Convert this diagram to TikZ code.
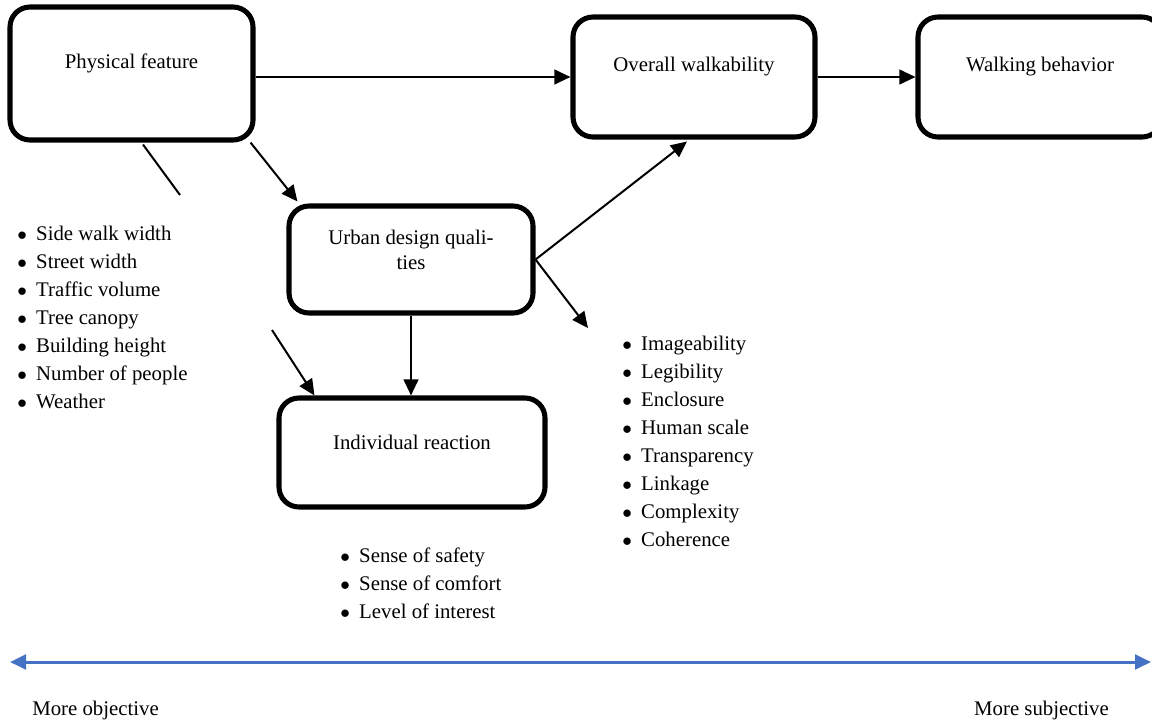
\documentclass[tikz,border=0pt]{standalone}
\usepackage{fontspec}
\setmainfont{Liberation Serif}
\usetikzlibrary{arrows.meta}
\usetikzlibrary{calc}
\definecolor{axisblue}{RGB}{68,114,196}

\begin{document}
\begin{tikzpicture}[x=0.75pt,y=0.75pt,yscale=-1,
    box/.style={draw, line width=3.8pt, rounded corners=15pt, inner sep=0pt},
    boxtext/.style={inner sep=0pt, align=center, font=\fontsize{15.6}{18.75}\selectfont},
    bullets/.style={inner sep=0pt, anchor=north west, align=left, font=\fontsize{15.6}{21}\selectfont},
    link/.style={line width=1.5pt, -{Triangle[length=12pt,width=11pt]}},
    axis/.style={line width=2.25pt, color=axisblue, {Triangle[length=12pt,width=11pt]}-{Triangle[length=12pt,width=11pt]}}]
    \useasboundingbox (0,0) rectangle (1152,722);

    % Boxes
    \node[box, minimum width=182.25pt, minimum height=99.75pt] (phys) at (131.5,73.5) {};
    \node[box, minimum width=181.5pt, minimum height=90pt] (overall) at (694,77) {};
    \node[box, minimum width=183pt, minimum height=90pt] (walking) at (1040,77) {};
    \node[box, minimum width=183pt, minimum height=80.25pt] (urban) at (411,259.5) {};
    \node[box, minimum width=199.5pt, minimum height=81.75pt] (indiv) at (412,452.5) {};

    % Box texts
    \node[boxtext] (physT) at ($(phys.center)+(0,-10)$) {Physical feature};
    \node[boxtext] (overallT) at ($(overall.center)+(0,-10)$) {Overall walkability};
    \node[boxtext] (walkingT) at ($(walking.center)+(0,-10)$) {Walking behavior};
    \node[boxtext] (urbanT) at ($(urban.center)+(0,-10)$) {Urban design quali-\\ties};
    \node[boxtext] (indivT) at ($(indiv.center)+(0,-10)$) {Individual reaction};

    % Bullet lists
    \node[bullets] (physlist) at (17,225.5) {$\bullet$\hspace{7pt}Side walk width\\
        $\bullet$\hspace{7pt}Street width\\
        $\bullet$\hspace{7pt}Traffic volume\\
        $\bullet$\hspace{7pt}Tree canopy\\
        $\bullet$\hspace{7pt}Building height\\
        $\bullet$\hspace{7pt}Number of people\\
        $\bullet$\hspace{7pt}Weather};
    \node[bullets] (qualist) at (622,335.5) {$\bullet$\hspace{7pt}Imageability\\
        $\bullet$\hspace{7pt}Legibility\\
        $\bullet$\hspace{7pt}Enclosure\\
        $\bullet$\hspace{7pt}Human scale\\
        $\bullet$\hspace{7pt}Transparency\\
        $\bullet$\hspace{7pt}Linkage\\
        $\bullet$\hspace{7pt}Complexity\\
        $\bullet$\hspace{7pt}Coherence};
    \node[bullets] (reactlist) at (340,547.5) {$\bullet$\hspace{7pt}Sense of safety\\
        $\bullet$\hspace{7pt}Sense of comfort\\
        $\bullet$\hspace{7pt}Level of interest};

    % Connectors
    \coordinate (qualtip) at (588,328);
    \coordinate (gapA) at (180,195);
    \coordinate (gapB) at (272,330);
    \draw[link] (phys.east |- overall.west) -- (overall.west);
    \draw[link] (overall.east) -- (walking.west);
    \draw[link] ($(phys.south east)+(-5,0)$) -- ($(urban.north west)+(11,-2)$);
    \draw[link] (urban.east) -- ($(overall.south)+(-7,2)$);
    \draw[link] (urban.east) -- (qualtip);
    \draw[link] (urban.south) -- (urban.south |- indiv.north);
    \draw[line width=1.5pt] ($(phys.south)+(11.5,2)$) -- (gapA);
    \draw[link] (gapB) -- ($(indiv.north west)+(38,0)$);

    % Objective / subjective axis
    \coordinate (axisL) at (10,662);
    \coordinate (axisR) at (1151,662);
    \draw[axis] (axisL) -- (axisR);
    \node[boxtext, anchor=west] (objective) at (32,710) {More objective};
    \node[boxtext] (subjective) at (1041.5,710) {More subjective};
\end{tikzpicture}
\end{document}
